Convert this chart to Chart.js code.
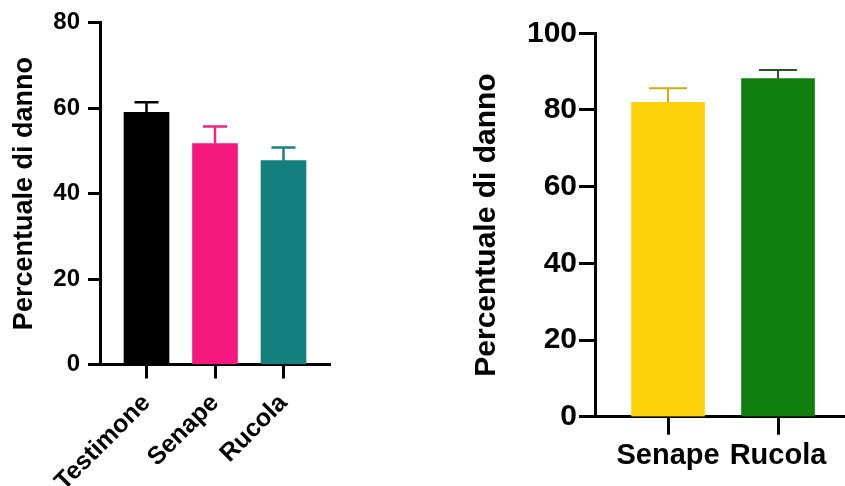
<!DOCTYPE html>
<html>
<head>
<meta charset="utf-8">
<script src="https://cdn.jsdelivr.net/npm/chart.js@4/dist/chart.umd.min.js"></script>
<style>
  html, body { margin: 0; padding: 0; background: #fff; }
  body { width: 845px; height: 486px; position: relative; overflow: hidden; }
  canvas { position: absolute; top: 0; }
  #left { left: 0; }
  #right { left: 460px; }
</style>
</head>
<body>
<canvas id="left" width="340" height="486"></canvas>
<canvas id="right" width="385" height="486"></canvas>
<script>
// grafico di sinistra
const leftCats = ['Testimone', 'Senape', 'Rucola'];
const leftMeans = [59.0, 51.7, 47.7];
const leftErr = [2.4, 4.0, 3.1];
const leftColors = ['#000000', '#f5197f', '#137f7f'];
const leftErrColors = ['#000000', '#f0237f', '#1a7f7f'];
const leftTicks = [0, 20, 40, 60, 80];

// grafico di destra
const rightCats = ['Senape', 'Rucola'];
const rightMeans = [82.0, 88.2];
const rightErr = [3.7, 2.2];
const rightColors = ['#fdd20b', '#117f0d'];
const rightErrColors = ['#cfae08', '#245a1f'];
const rightTicks = [0, 20, 40, 60, 80, 100];

const yTitle = 'Percentuale di danno';
const FONT = "'Liberation Sans', Arial, Helvetica, sans-serif";

// barre di errore (solo verso l'alto)
const errorBars = {
  id: 'errorBars',
  afterDatasetsDraw(chart, args, opts) {
    const ctx = chart.ctx;
    const y = chart.scales.y;
    const meta = chart.getDatasetMeta(0);
    ctx.save();
    ctx.lineWidth = opts.width;
    meta.data.forEach((bar, i) => {
      const top = y.getPixelForValue(opts.means[i] + opts.errs[i]);
      ctx.strokeStyle = opts.colors[i];
      ctx.beginPath();
      ctx.moveTo(bar.x, bar.y);
      ctx.lineTo(bar.x, top);
      ctx.moveTo(bar.x - opts.cap / 2, top);
      ctx.lineTo(bar.x + opts.cap / 2, top);
      ctx.stroke();
    });
    ctx.restore();
  }
};

function makeChart(id, cfg) {
  const font = s => ({ family: FONT, size: s, weight: 'bold' });
  new Chart(document.getElementById(id), {
    type: 'bar',
    data: {
      datasets: [{
        data: cfg.means.map((v, i) => ({ x: i + 1, y: v })),
        backgroundColor: cfg.colors,
        borderWidth: 0,
        barThickness: cfg.barW
      }]
    },
    options: {
      responsive: false,
      devicePixelRatio: 1,
      animation: false,
      layout: { padding: { top: cfg.top, right: cfg.right, left: 0, bottom: 0 } },
      plugins: {
        legend: { display: false },
        tooltip: { enabled: false },
        errorBars: { means: cfg.means, errs: cfg.errs, colors: cfg.errColors, width: cfg.errW, cap: cfg.cap }
      },
      scales: {
        x: {
          type: 'linear',
          z: 1,
          offset: false,
          min: cfg.xMin,
          max: cfg.xMax,
          afterBuildTicks: s => { s.ticks = cfg.cats.map((c, i) => ({ value: i + 1 })); },
          afterFit: s => { s.height = cfg.xH; },
          grid: { display: true, offset: false, drawOnChartArea: false, drawTicks: true, tickLength: cfg.xTickLen, tickWidth: 3, tickColor: '#000' },
          border: { display: true, color: '#000', width: 3 },
          ticks: {
            color: '#000',
            font: font(cfg.xFont),
            padding: cfg.xPad,
            autoSkip: false,
            minRotation: cfg.rot,
            maxRotation: cfg.rot,
            callback: v => cfg.cats[v - 1]
          }
        },
        y: {
          z: 1,
          min: 0,
          max: cfg.yTicks[cfg.yTicks.length - 1],
          afterBuildTicks: s => { s.ticks = cfg.yTicks.map(v => ({ value: v })); },
          afterFit: s => { s.width = cfg.yW; },
          grid: { display: true, drawOnChartArea: false, drawTicks: true, tickLength: cfg.yTickLen, tickWidth: 3, tickColor: '#000' },
          border: { display: true, color: '#000', width: 3 },
          ticks: { color: '#000', font: font(cfg.yFont), padding: cfg.yPad },
          title: { display: true, text: yTitle, color: '#000', font: font(cfg.titleFont), padding: { top: cfg.titlePad, bottom: 0 } }
        }
      }
    },
    plugins: [errorBars]
  });
}

makeChart('left', {
  cats: leftCats, means: leftMeans, errs: leftErr, colors: leftColors, errColors: leftErrColors,
  yTicks: leftTicks, barW: 45, errW: 2.5, cap: 24,
  top: 22.7, right: 10, xMin: 0.321, xMax: 3.679, xH: 121.5, yW: 100,
  xTickLen: 14, xPad: 10, xFont: 25, rot: 45,
  yTickLen: 12, yPad: 8, yFont: 24, titleFont: 27, titlePad: 8
});

makeChart('right', {
  cats: rightCats, means: rightMeans, errs: rightErr, colors: rightColors, errColors: rightErrColors,
  yTicks: rightTicks, barW: 73, errW: 2, cap: 38,
  top: 33.3, right: 0, xMin: 0.336, xMax: 2.609, xH: 69.3, yW: 135,
  xTickLen: 18, xPad: 4, xFont: 29, rot: 0,
  yTickLen: 16, yPad: 2, yFont: 30, titleFont: 30, titlePad: 9
});
</script>
</body>
</html>
